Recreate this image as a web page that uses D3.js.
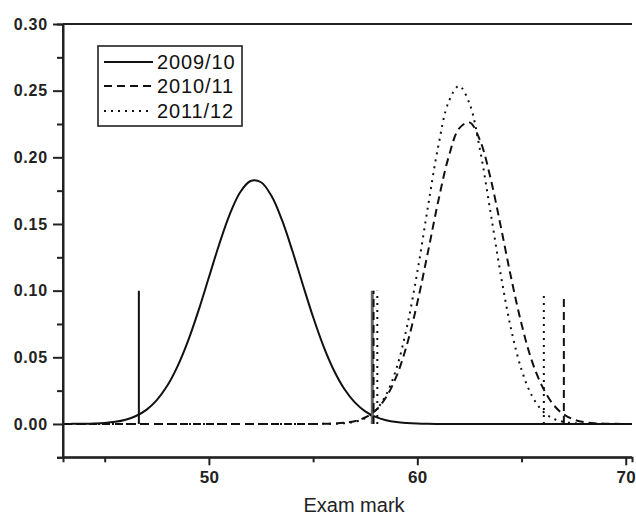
<!DOCTYPE html>
<html>
<head>
<meta charset="utf-8">
<script src="https://cdn.jsdelivr.net/npm/d3@7"></script>
<style>
  html, body { margin: 0; padding: 0; background: #fff; }
  svg { display: block; font-family: "Liberation Sans", Arial, Helvetica, sans-serif; }
</style>
</head>
<body>
<svg id="chart" width="636" height="515"></svg>
<script>
// ---- data ----
const seriesNames = ["2009/10", "2010/11", "2011/12"];
const examMarks = [43,43.5,44,44.5,45,45.5,46,46.5,47,47.5,48,48.5,49,49.5,50,50.5,51,51.5,52,52.5,53,53.5,54,54.5,55,55.5,56,56.5,57,57.5,58,58.5,59,59.5,60,60.5,61,61.5,62,62.5,63,63.5,64,64.5,65,65.5,66,66.5,67,67.5,68,68.5,69,69.5,70,70.5];
const density0910 = [0,0.0001,0.0002,0.0004,0.0008,0.0016,0.0032,0.0060,0.0106,0.0179,0.0286,0.0434,0.0623,0.0850,0.1100,0.1350,0.1572,0.1738,0.1822,0.1813,0.1711,0.1532,0.1301,0.1048,0.0802,0.0582,0.0401,0.0262,0.0162,0.0095,0.0053,0.0028,0.0014,0.0007,0.0003,0.0001,0,0,0,0,0,0,0,0,0,0,0,0,0,0,0,0,0,0,0,0];
const density1011 = [0,0,0,0,0,0,0,0,0,0,0,0,0,0,0,0,0,0,0,0,0,0,0,0,0,0.0001,0.0003,0.0009,0.0021,0.0049,0.0102,0.0200,0.0358,0.0594,0.0909,0.1282,0.1668,0.2001,0.2215,0.2262,0.2131,0.1852,0.1484,0.1097,0.0749,0.0471,0.0280,0.0150,0.0074,0.0034,0.0014,0.0005,0.0002,0.0001,0,0];
const density1112 = [0,0,0,0,0,0,0,0,0,0,0,0,0,0,0,0,0,0,0,0,0,0,0,0,0,0.0001,0.0002,0.0006,0.0017,0.0043,0.0102,0.0217,0.0417,0.0726,0.1140,0.1620,0.2079,0.2415,0.2535,0.2405,0.2063,0.1600,0.1122,0.0711,0.0407,0.0211,0.0099,0.0042,0.0016,0.0006,0.0002,0.0001,0,0,0,0];
// vertical marker lines (position on x, height on y)
const markerX0910 = [46.64, 57.84];
const markerH0910 = [0.100, 0.100];
const markerX1011 = [57.90, 67.03];
const markerH1011 = [0.100, 0.097];
const markerX1112 = [58.08, 66.07];
const markerH1112 = [0.100, 0.097];
const xTickMajor = [50, 60, 70];
const xTickMinor = [45, 55, 65];
const yTickMajor = [0.00, 0.05, 0.10, 0.15, 0.20, 0.25, 0.30];
const yTickMinor = [-0.025, 0.025, 0.075, 0.125, 0.175, 0.225, 0.275];
const xTitle = "Exam mark";

// ---- styles ----
const dashes = [null, "8,5", "2,5"];
const allDensity = [density0910, density1011, density1112];
const allMarkX = [markerX0910, markerX1011, markerX1112];
const allMarkH = [markerH0910, markerH1011, markerH1112];

const svg = d3.select("#chart");
const L = 63, R = 632, T = 24, B = 457.3;
const x = d3.scaleLinear().domain([43, 70.3]).range([L, R]);
const y = d3.scaleLinear().domain([-0.025, 0.30]).range([B, T]);

svg.append("defs").append("clipPath").attr("id", "plotclip")
  .append("rect").attr("x", L).attr("y", T).attr("width", R - L).attr("height", B - T);

const plot = svg.append("g").attr("clip-path", "url(#plotclip)");

const line = d3.line()
  .x((d, i) => x(examMarks[i]))
  .y(d => y(d))
  .curve(d3.curveCatmullRom.alpha(0.5));

allDensity.forEach((vals, k) => {
  plot.append("path")
    .attr("d", line(vals))
    .attr("fill", "none")
    .attr("stroke", "#111")
    .attr("stroke-width", 2)
    .attr("stroke-dasharray", dashes[k]);
  allMarkX[k].forEach((mx, j) => {
    plot.append("line")
      .attr("x1", x(mx)).attr("x2", x(mx))
      .attr("y1", y(0)).attr("y2", y(allMarkH[k][j]))
      .attr("stroke", k === 0 && j === 1 ? "#666" : "#111")
      .attr("stroke-width", k === 0 && j === 1 ? 3 : 2)
      .attr("stroke-dasharray", dashes[k]);
  });
});

// ---- axes ----
const axisColor = "#222";
// top frame line
svg.append("line").attr("x1", L).attr("x2", R).attr("y1", T).attr("y2", T)
  .attr("stroke", axisColor).attr("stroke-width", 2);

const gx = svg.append("g").attr("transform", `translate(0,${B})`)
  .call(d3.axisBottom(x).tickValues(xTickMajor).tickSize(8).tickPadding(6).tickFormat(d3.format("d")));
gx.append("g").call(d3.axisBottom(x).tickValues(xTickMinor).tickSize(5).tickFormat(""));
const gy = svg.append("g").attr("transform", `translate(${L},0)`)
  .call(d3.axisLeft(y).tickValues(yTickMajor).tickSize(10).tickPadding(5).tickFormat(d3.format(".2f")));
gy.append("g").call(d3.axisLeft(y).tickValues(yTickMinor).tickSize(6).tickFormat(""));

[gx, gy].forEach(g => {
  g.selectAll(".domain").attr("stroke", axisColor).attr("stroke-width", 2);
  g.selectAll(".tick line").attr("stroke", axisColor).attr("stroke-width", 2);
  g.selectAll(".tick text").attr("fill", "#222").attr("font-weight", "bold")
    .attr("font-family", "'Liberation Sans', Arial, sans-serif");
});
gx.select(".domain").attr("d", `M${L},0H${R}`);
gy.select(".domain").attr("d", `M0,${T}V${B}`);
gx.selectAll(".tick text").attr("font-size", 17).attr("letter-spacing", "0.3px");
gy.selectAll(".tick text").attr("font-size", 16).attr("letter-spacing", "0.8px");

svg.append("text")
  .attr("x", 354).attr("y", 512)
  .attr("text-anchor", "middle")
  .attr("font-size", 20)
  .attr("fill", "#222")
  .text(xTitle);

// ---- legend ----
const lg = svg.append("g");
lg.append("rect").attr("x", 98).attr("y", 46).attr("width", 144).attr("height", 80)
  .attr("fill", "#fff").attr("stroke", "#222").attr("stroke-width", 1.6);
const legendY = [62, 86, 111];
seriesNames.forEach((name, k) => {
  lg.append("line").attr("x1", 104).attr("x2", 153)
    .attr("y1", legendY[k]).attr("y2", legendY[k])
    .attr("stroke", "#111").attr("stroke-width", 2)
    .attr("stroke-dasharray", dashes[k]);
  lg.append("text").attr("x", 157).attr("y", legendY[k] + 7)
    .attr("font-size", 20).attr("letter-spacing", "0.9px").attr("fill", "#111")
    .text(name);
});
</script>
</body>
</html>
